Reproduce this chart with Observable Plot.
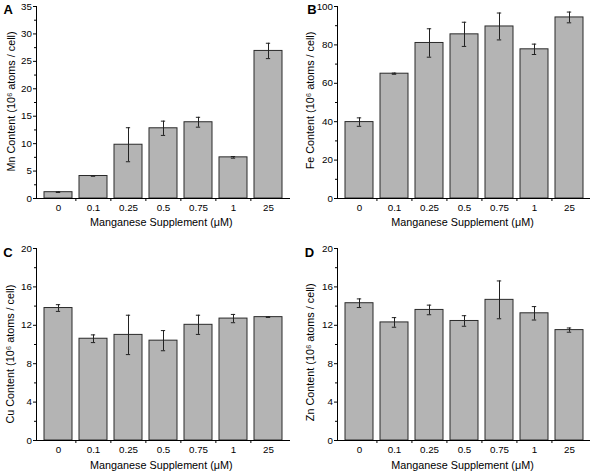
<!DOCTYPE html>
<html>
<head>
<meta charset="utf-8">
<script src="https://cdn.jsdelivr.net/npm/d3@7"></script>
<script src="https://cdn.jsdelivr.net/npm/@observablehq/plot@0.6"></script>
<style>
  html, body { margin: 0; padding: 0; background: #fff; }
  #root { position: relative; width: 590px; height: 472px; overflow: hidden; background: #fff; }
  #root svg { position: absolute; }
</style>
</head>
<body>
<div id="root"></div>
<script>
// ---- data ----
const doses = ["0", "0.1", "0.25", "0.5", "0.75", "1", "25"];
const xTitle = "Manganese Supplement (μM)";

const mnMean = [1.15, 4.1, 9.8, 12.8, 13.9, 7.5, 26.9];
const mnErr  = [0.05, 0.03, 3.1, 1.3, 0.9, 0.15, 1.4];

const feMean = [39.8, 65.0, 81.0, 85.5, 89.6, 77.7, 94.3];
const feErr  = [2.2, 0.3, 7.4, 6.3, 7.0, 2.7, 2.8];

const cuMean = [13.8, 10.6, 11.0, 10.4, 12.05, 12.7, 12.85];
const cuErr  = [0.35, 0.4, 2.05, 1.05, 1.0, 0.43, 0.03];

const znMean = [14.3, 12.3, 13.6, 12.45, 14.65, 13.25, 11.5];
const znErr  = [0.45, 0.5, 0.5, 0.55, 1.97, 0.7, 0.22];

const mnTicks = [0, 5, 10, 15, 20, 25, 30, 35];
const mnMinor = [2.5, 7.5, 12.5, 17.5, 22.5, 27.5, 32.5];
const feTicks = [0, 20, 40, 60, 80, 100];
const feMinor = [10, 30, 50, 70, 90];
const smallTicks = [0, 4, 8, 12, 16, 20];
const smallMinor = [2, 6, 10, 14, 18];

const FONT = "'Liberation Sans', Arial, Helvetica, sans-serif";

function panel(cfg) {
  const width = 295, height = 236;
  const pad = 0.2;
  const W = width - cfg.ml - cfg.mr;
  const step = W / (doses.length + pad);
  const bw = step * (1 - pad);
  const capInset = (bw - 4.5) / 2;
  const data = doses.map((d, i) => ({dose: d, v: cfg.mean[i], e: cfg.err[i]}));

  const svg = Plot.plot({
    width, height,
    marginTop: cfg.mt, marginBottom: cfg.mb, marginLeft: cfg.ml, marginRight: cfg.mr,
    style: {fontFamily: FONT, fontSize: "9.8px", background: "white", color: "#000", overflow: "visible"},
    x: {type: "band", domain: doses, padding: pad, label: null},
    y: {domain: [0, cfg.yMax], label: null},
    marks: [
      Plot.barY(data, {x: "dose", y: "v", fill: "#b4b4b4", stroke: "#2a2a2a", strokeWidth: 1}),
      Plot.ruleX(data, {x: "dose", y1: d => d.v - d.e, y2: d => d.v + d.e, stroke: "#222", strokeWidth: 1}),
      Plot.tickY(data, {x: "dose", y: d => d.v + d.e, stroke: "#222", strokeWidth: 1, insetLeft: capInset, insetRight: capInset}),
      Plot.tickY(data, {x: "dose", y: d => d.v - d.e, stroke: "#222", strokeWidth: 1, insetLeft: capInset, insetRight: capInset}),
      Plot.ruleY([0], {stroke: "#000", strokeWidth: 1}),
      Plot.frame({anchor: "left", stroke: "#000", strokeWidth: 1}),
      Plot.axisY({ticks: cfg.ticks, tickSize: 3, tickPadding: 1.5, fontSize: 9.8, label: null}),
      Plot.axisY({ticks: cfg.minor, tickSize: 2, tickFormat: () => "", label: null}),
      Plot.axisX({tickSize: 0, tickPadding: 5.3, fontSize: 9.8, label: null}),
      Plot.axisX({ticks: doses.slice(1), tickSize: 3, tickFormat: () => "", dx: -step / 2, label: null}),
      Plot.text([cfg.ylabel], {
        frameAnchor: "left", rotate: -90, dx: cfg.ylx, dy: cfg.yly,
        textAnchor: "middle", lineAnchor: "middle", fontSize: 10.8, fill: "#000", ariaLabel: "ylabel"
      }),
      Plot.text([xTitle], {
        frameAnchor: "bottom", dx: cfg.xlx, dy: cfg.xly,
        textAnchor: "middle", lineAnchor: "middle", fontSize: 10.8, fill: "#000", ariaLabel: "xlabel"
      }),
      Plot.text([cfg.letter], {
        frameAnchor: "top-left", dx: cfg.lx, dy: cfg.ly,
        textAnchor: "start", lineAnchor: "top", fontSize: 13, fontWeight: "bold", fill: "#000"
      })
    ]
  });
  const t = svg.querySelector('g[aria-label="ylabel"] text');
  if (t) { t.setAttribute("textLength", cfg.ylen); t.setAttribute("lengthAdjust", "spacingAndGlyphs"); }
  const xt = svg.querySelector('g[aria-label="xlabel"] text');
  if (xt) { xt.setAttribute("textLength", 140); xt.setAttribute("lengthAdjust", "spacingAndGlyphs"); }
  svg.style.left = cfg.left + "px";
  svg.style.top = cfg.top + "px";
  return svg;
}

const root = document.getElementById("root");
root.append(
  panel({left: 0, top: 0, letter: "A", mean: mnMean, err: mnErr, yMax: 35, ticks: mnTicks, minor: mnMinor,
    ylabel: "Mn Content (10⁶ atoms / cell)", ml: 36, mr: 5, mt: 6, mb: 38,
    ylx: -25, yly: -1, ylen: 138, xlx: -2.2, xly: 23.7, lx: -33, ly: -2}),
  panel({left: 295, top: 0, letter: "B", mean: feMean, err: feErr, yMax: 100, ticks: feTicks, minor: feMinor,
    ylabel: "Fe Content (10⁶ atoms / cell)", ml: 42, mr: 0, mt: 6, mb: 38,
    ylx: -26.7, yly: -2, ylen: 137, xlx: -1.5, xly: 23.7, lx: -30.3, ly: -2}),
  panel({left: 0, top: 236, letter: "C", mean: cuMean, err: cuErr, yMax: 20, ticks: smallTicks, minor: smallMinor,
    ylabel: "Cu Content (10⁶ atoms / cell)", ml: 36, mr: 5, mt: 12, mb: 32,
    ylx: -26, yly: 9.6, ylen: 158, xlx: -2.2, xly: 25.3, lx: -33.3, ly: -0.3}),
  panel({left: 295, top: 236, letter: "D", mean: znMean, err: znErr, yMax: 20, ticks: smallTicks, minor: smallMinor,
    ylabel: "Zn Content (10⁶ atoms / cell)", ml: 42, mr: 0, mt: 12, mb: 32,
    ylx: -26.7, yly: 7.8, ylen: 168, xlx: -1.5, xly: 25.3, lx: -32.7, ly: -0.3})
);
</script>
</body>
</html>
